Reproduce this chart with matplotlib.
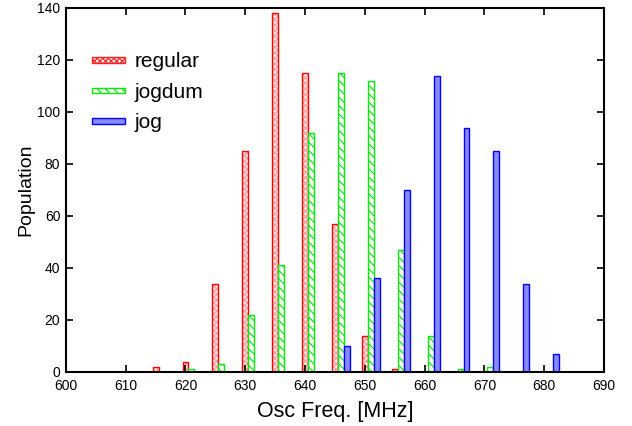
import matplotlib
matplotlib.use("Agg")
import matplotlib.pyplot as plt
from matplotlib.patches import Patch, Rectangle
from matplotlib.legend_handler import HandlerPatch
import numpy as np

plt.rcParams['font.family'] = ['Liberation Sans', 'DejaVu Sans']
plt.rcParams['hatch.linewidth'] = 0.8

# Oscillator frequency bins [MHz]
freq_bins = [610, 615, 620, 625, 630, 635, 640, 645, 650, 655, 660, 665, 670, 675, 680, 685]
regular = [0, 2, 4, 34, 85, 138, 115, 57, 14, 1, 0, 0, 0, 0, 0, 0]
jogdum = [0, 0, 1, 3, 22, 41, 92, 115, 112, 47, 14, 1, 2, 0, 0, 0]
jog = [0, 0, 0, 0, 0, 0, 0, 10, 36, 70, 114, 94, 85, 34, 7, 0]

series_names = ["regular", "jogdum", "jog"]
x_ticks = list(range(600, 691, 10))
y_ticks = list(range(0, 141, 20))

fig = plt.figure(figsize=(6.32, 4.26), dpi=100)
ax = fig.add_axes([0.1043, 0.1268, 0.8514, 0.8545])

x = np.array(freq_bins, dtype=float)
w = 1.0
# regular: light checkered fill drawn first, then the red outline on top
ax.bar(x, regular, width=w, facecolor='#ffe8e8', edgecolor='#ff9a9a',
       hatch='xxxxxx', linewidth=0)
ax.bar(x, regular, width=w, facecolor='none', edgecolor='#ff0000',
       linewidth=1.0)
ax.bar(x + 1.0, jogdum, width=w, facecolor='white', edgecolor='#00ee00',
       hatch='\\\\\\\\', linewidth=1.0)
ax.bar(x + 2.0, jog, width=w, facecolor='#8a8aff', edgecolor='#0000ff',
       linewidth=1.0)

# legend keys: thin flat bars in each series style
handles = [
    Patch(facecolor='#ffe0e0', edgecolor='#ff2020', hatch='xxxxxx', linewidth=1.0),
    Patch(facecolor='white', edgecolor='#00ee00', hatch='\\\\\\\\', linewidth=1.0),
    Patch(facecolor='#8a8aff', edgecolor='#0000ff', linewidth=1.0),
]


def thin_bar(legend, orig_handle, xdescent, ydescent, width, height, fontsize):
    h = 4.0
    return Rectangle((-xdescent, -ydescent + (height - h) / 2), width, h)


ax.set_xlim(600, 690)
ax.set_ylim(0, 140)
ax.set_xticks(x_ticks)
ax.set_yticks(y_ticks)
ax.tick_params(direction='in', length=5, width=1.2, labelsize=10,
               top=True, right=True, pad=4)
ax.tick_params(axis='x', pad=5)
for s in ax.spines.values():
    s.set_linewidth(1.5)

ax.set_xlabel("Osc Freq. [MHz]", fontsize=15.5, labelpad=6)
ax.set_ylabel("Population", fontsize=14, labelpad=2)

leg = ax.legend(handles, series_names, loc='upper left',
                bbox_to_anchor=(0.048, 0.878), frameon=False,
                fontsize=15, handlelength=1.6, handleheight=0.7,
                handletextpad=0.45, labelspacing=0.55, borderaxespad=0,
                borderpad=0,
                handler_map={Patch: HandlerPatch(patch_func=thin_bar)})

fig.savefig("out.png", dpi=100)
